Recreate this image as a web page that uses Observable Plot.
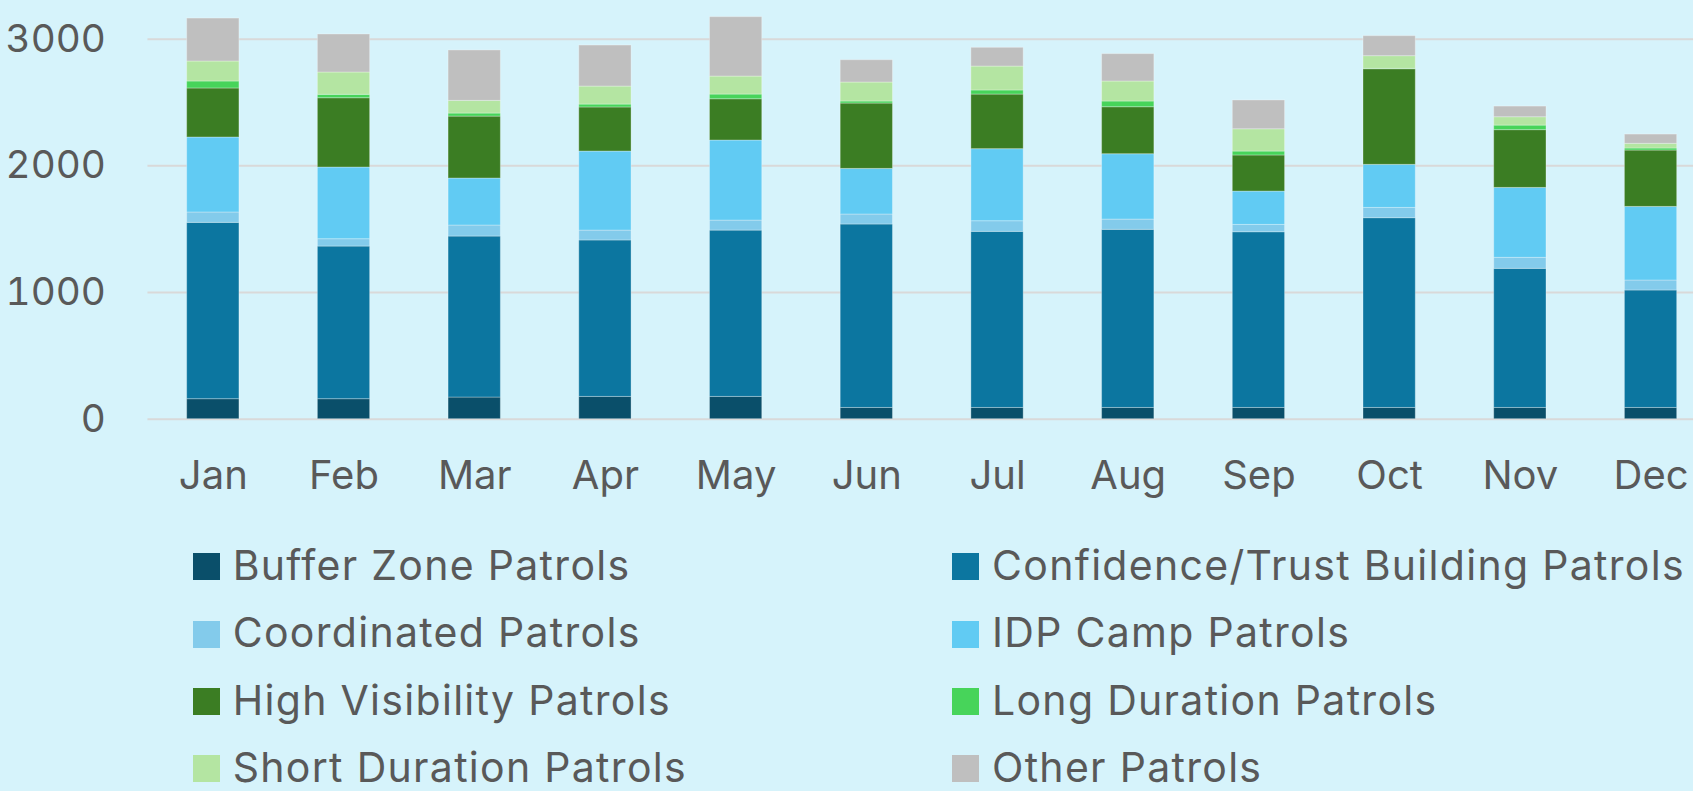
<!DOCTYPE html>
<html><head><meta charset="utf-8">
<script src="https://cdn.jsdelivr.net/npm/d3@7"></script>
<script src="https://cdn.jsdelivr.net/npm/@observablehq/plot@0.6"></script>
<style>
html,body{margin:0;padding:0;background:#D6F3FB;overflow:hidden;width:1693px;height:791px;}
#wrap{position:relative;width:1693px;height:791px;overflow:hidden;font-family:Inter, sans-serif;color:#595959;}
#chart{position:absolute;left:0;top:0;width:1720px;}
#chart svg{max-width:none !important;}
.item{position:absolute;display:flex;align-items:center;height:27px;font-size:41px;white-space:nowrap;letter-spacing:1.3px;}
.item span.t{position:relative;top:-2px;}
.sw{width:27px;height:27px;margin-right:13px;flex:none;}
</style></head><body><div id="wrap"><div id="chart"></div><div id="legend"></div></div>
<script>
const months = ["Jan","Feb","Mar","Apr","May","Jun","Jul","Aug","Sep","Oct","Nov","Dec"];
const seriesNames = ["Buffer Zone Patrols","Confidence/Trust Building Patrols","Coordinated Patrols","IDP Camp Patrols","High Visibility Patrols","Long Duration Patrols","Short Duration Patrols","Other Patrols"];
const bufferZone   = [158,158,171,176,176,89,89,89,89,89,89,89];
const confidence   = [1392,1205,1271,1235,1313,1448,1390,1406,1387,1498,1098,927];
const coordinated  = [82,58,87,78,79,79,84,81,58,81,87,79];
const idpCamp      = [592,566,371,624,632,360,569,516,263,340,552,581];
const highVis      = [387,547,489,348,326,516,431,371,285,755,456,445];
const longDuration = [55,27,24,23,37,16,32,45,31,3,36,16];
const shortDuration= [158,176,100,142,142,150,189,158,176,100,66,37];
const other        = [339,300,398,324,469,176,148,216,227,158,84,73];
const yTicks = [0,1000,2000,3000];
const colors = ["#0A4F6A","#0C76A0","#83CBEB","#61CBF3","#3B7D23","#47D45A","#B4E5A2","#BFBFBF"];

const seriesValues = [bufferZone, confidence, coordinated, idpCamp, highVis, longDuration, shortDuration, other];
const rows = [];
seriesNames.forEach((s, si) => months.forEach((m, mi) => rows.push({month: m, series: s, value: seriesValues[si][mi]})));

const W = 1720, H = 510;
const chart = Plot.plot({
  width: W, height: H,
  marginLeft: 147.45, marginRight: W - 1715.9, marginTop: 0, marginBottom: H - 418.7,
  style: {background: "transparent", fontFamily: "Inter, sans-serif", fontSize: "40px", color: "#595959", overflow: "visible", maxWidth: "none"},
  x: {domain: months, range: [147.45, 1715.9], paddingInner: 0.6, paddingOuter: 0.3, round: false, label: null},
  y: {domain: [0, 3000], range: [418.7, 38.7], label: null},
  color: {domain: seriesNames, range: colors},
  marks: [
    Plot.gridY(yTicks, {stroke: "#D9D9D9", strokeOpacity: 1, strokeWidth: 2}),
    Plot.barY(rows, {x: "month", y: "value", fill: "series", stroke: "#ffffff", strokeOpacity: 0.3, strokeWidth: 1}),
    Plot.axisY(yTicks, {tickSize: 0, tickPadding: 42, fontSize: 38.7, label: null, tickFormat: d => String(d)}),
    Plot.axisX({tickSize: 0, tickPadding: 41, label: null})
  ]
});
document.getElementById("chart").appendChild(chart);

const legend = document.getElementById("legend");
const colX = [192.7, 952];
const rowY = [553.3, 620.7, 688, 755.3];
seriesNames.forEach((s, i) => {
  const it = document.createElement("div");
  it.className = "item";
  it.style.left = colX[i % 2] + "px";
  it.style.top = rowY[Math.floor(i / 2)] + "px";
  const sw = document.createElement("span");
  sw.className = "sw";
  sw.style.background = colors[i];
  const t = document.createElement("span");
  t.className = "t";
  t.textContent = s;
  it.appendChild(sw); it.appendChild(t);
  legend.appendChild(it);
});
</script></body></html>
